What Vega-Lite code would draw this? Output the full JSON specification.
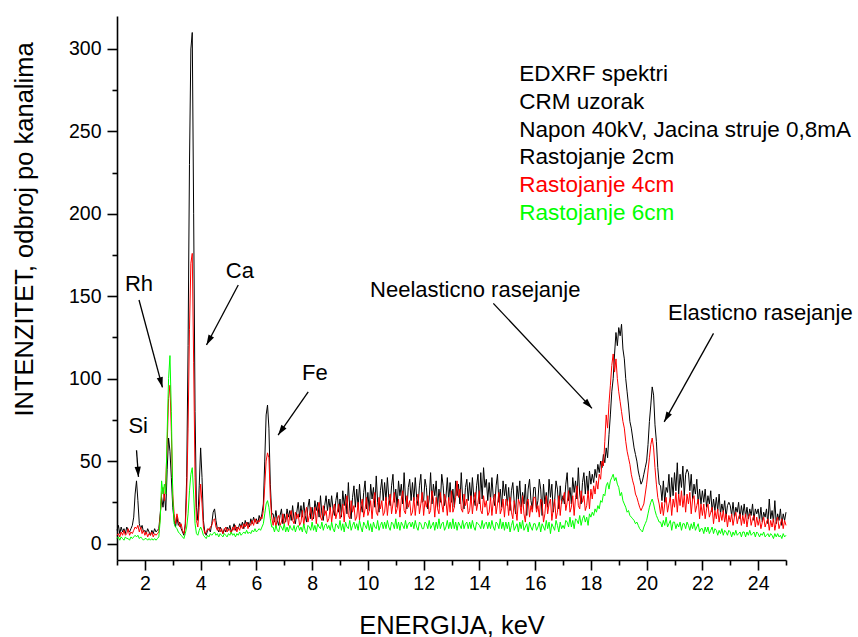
{
  "$schema": "https://vega.github.io/schema/vega-lite/v6.json",
  "width": 669,
  "height": 544,
  "autosize": "none",
  "padding": {"left": 117, "top": 16, "right": 72, "bottom": 77},
  "background": "white",
  "datasets": {
    "spec": [
{"e":1.00,"k":8,"r":5,"g":3},{"e":1.05,"k":11,"r":6,"g":4},{"e":1.10,"k":6,"r":4,"g":2},{"e":1.15,"k":10,"r":7,"g":4},{"e":1.20,"k":7,"r":5,"g":3},{"e":1.25,"k":9,"r":8,"g":2},{"e":1.30,"k":6,"r":5,"g":4},{"e":1.35,"k":10,"r":6,"g":3},{"e":1.40,"k":8,"r":9,"g":3},{"e":1.45,"k":7,"r":5,"g":2},{"e":1.50,"k":9,"r":7,"g":4},{"e":1.55,"k":11,"r":6,"g":3},
{"e":1.60,"k":16,"r":8,"g":4},{"e":1.65,"k":30,"r":10,"g":5},{"e":1.70,"k":38,"r":9,"g":4},{"e":1.75,"k":26,"r":11,"g":5},{"e":1.80,"k":12,"r":7,"g":3},{"e":1.85,"k":9,"r":10,"g":4},{"e":1.90,"k":11,"r":6,"g":3},{"e":1.95,"k":7,"r":8,"g":2},{"e":2.00,"k":8,"r":5,"g":3},{"e":2.05,"k":6,"r":7,"g":3},{"e":2.10,"k":9,"r":4,"g":2},{"e":2.15,"k":7,"r":6,"g":3},{"e":2.20,"k":5,"r":5,"g":2},{"e":2.25,"k":8,"r":7,"g":3},{"e":2.30,"k":6,"r":4,"g":2},{"e":2.35,"k":9,"r":6,"g":3},{"e":2.40,"k":7,"r":5,"g":2},{"e":2.45,"k":8,"r":6,"g":3},{"e":2.50,"k":9,"r":7,"g":4},
{"e":2.55,"k":18,"r":16,"g":14},{"e":2.60,"k":28,"r":30,"g":38},{"e":2.65,"k":22,"r":34,"g":30},{"e":2.70,"k":30,"r":26,"g":36},{"e":2.75,"k":20,"r":38,"g":30},{"e":2.80,"k":45,"r":60,"g":68},{"e":2.85,"k":64,"r":88,"g":100},{"e":2.90,"k":56,"r":96,"g":114},{"e":2.95,"k":40,"r":68,"g":80},{"e":3.00,"k":22,"r":30,"g":28},{"e":3.05,"k":14,"r":18,"g":12},{"e":3.10,"k":10,"r":12,"g":10},{"e":3.15,"k":16,"r":18,"g":9},{"e":3.20,"k":11,"r":14,"g":7},{"e":3.25,"k":13,"r":10,"g":6},{"e":3.30,"k":9,"r":12,"g":5},{"e":3.35,"k":7,"r":8,"g":4},{"e":3.40,"k":5,"r":6,"g":3},{"e":3.45,"k":12,"r":10,"g":6},
{"e":3.50,"k":40,"r":30,"g":10},{"e":3.55,"k":120,"r":70,"g":18},{"e":3.60,"k":230,"r":130,"g":32},{"e":3.65,"k":300,"r":170,"g":42},{"e":3.70,"k":310,"r":176,"g":46},{"e":3.75,"k":200,"r":110,"g":30},{"e":3.80,"k":80,"r":40,"g":12},{"e":3.85,"k":22,"r":14,"g":6},{"e":3.90,"k":14,"r":10,"g":5},{"e":3.95,"k":35,"r":22,"g":8},{"e":4.00,"k":58,"r":36,"g":10},{"e":4.05,"k":40,"r":24,"g":8},{"e":4.10,"k":14,"r":10,"g":5},{"e":4.15,"k":7,"r":6,"g":4},{"e":4.20,"k":5,"r":7,"g":3},{"e":4.25,"k":8,"r":9,"g":5},{"e":4.30,"k":9,"r":8,"g":4},{"e":4.35,"k":7,"r":10,"g":6},{"e":4.40,"k":12,"r":11,"g":5},{"e":4.45,"k":19,"r":14,"g":6},{"e":4.50,"k":21,"r":15,"g":7},{"e":4.55,"k":14,"r":10,"g":5},{"e":4.60,"k":9,"r":8,"g":6},{"e":4.65,"k":7,"r":10,"g":4},{"e":4.70,"k":10,"r":7,"g":6},{"e":4.75,"k":8,"r":9,"g":5},{"e":4.80,"k":6,"r":6,"g":4},{"e":4.85,"k":9,"r":8,"g":6},{"e":4.90,"k":7,"r":10,"g":5},{"e":4.95,"k":10,"r":7,"g":4},
{"e":5.00,"k":8,"r":9,"g":6},{"e":5.05,"k":11,"r":8,"g":5},{"e":5.10,"k":7,"r":6,"g":7},{"e":5.15,"k":9,"r":10,"g":5},{"e":5.20,"k":12,"r":8,"g":6},{"e":5.25,"k":8,"r":11,"g":4},{"e":5.30,"k":10,"r":7,"g":6},{"e":5.35,"k":9,"r":10,"g":5},{"e":5.40,"k":12,"r":8,"g":7},{"e":5.45,"k":10,"r":11,"g":5},{"e":5.50,"k":13,"r":9,"g":6},{"e":5.55,"k":9,"r":12,"g":7},{"e":5.60,"k":14,"r":10,"g":6},{"e":5.65,"k":11,"r":13,"g":8},{"e":5.70,"k":13,"r":9,"g":6},{"e":5.75,"k":10,"r":12,"g":7},{"e":5.80,"k":15,"r":11,"g":6},{"e":5.85,"k":12,"r":14,"g":8},{"e":5.90,"k":16,"r":11,"g":7},{"e":5.95,"k":13,"r":15,"g":9},{"e":6.00,"k":15,"r":12,"g":7},{"e":6.05,"k":12,"r":14,"g":8},{"e":6.10,"k":17,"r":13,"g":9},{"e":6.15,"k":14,"r":16,"g":8},{"e":6.20,"k":18,"r":15,"g":10},
{"e":6.25,"k":24,"r":20,"g":12},{"e":6.30,"k":50,"r":35,"g":18},{"e":6.35,"k":78,"r":50,"g":24},{"e":6.40,"k":84,"r":55,"g":26},{"e":6.45,"k":70,"r":52,"g":22},{"e":6.50,"k":36,"r":28,"g":15},{"e":6.55,"k":18,"r":16,"g":10},
{"e":6.60,"k":18,"r":11,"g":10},{"e":6.65,"k":13,"r":16,"g":7},{"e":6.70,"k":20,"r":10,"g":11},{"e":6.75,"k":14,"r":15,"g":8},{"e":6.80,"k":11,"r":17,"g":7},{"e":6.85,"k":17,"r":11,"g":11},{"e":6.90,"k":21,"r":13,"g":10},{"e":6.95,"k":12,"r":18,"g":8},
{"e":7.00,"k":18,"r":12,"g":12},{"e":7.05,"k":13,"r":14,"g":7},{"e":7.10,"k":21,"r":18,"g":10},{"e":7.15,"k":16,"r":11,"g":7},{"e":7.20,"k":20,"r":17,"g":11},{"e":7.25,"k":14,"r":20,"g":9},{"e":7.30,"k":23,"r":14,"g":8},{"e":7.35,"k":15,"r":12,"g":11},{"e":7.40,"k":12,"r":19,"g":7},{"e":7.45,"k":19,"r":15,"g":10},{"e":7.50,"k":25,"r":18,"g":11},{"e":7.55,"k":16,"r":11,"g":8},{"e":7.60,"k":23,"r":13,"g":10},{"e":7.65,"k":16,"r":20,"g":7},{"e":7.70,"k":25,"r":11,"g":12},{"e":7.75,"k":17,"r":18,"g":8},{"e":7.80,"k":13,"r":22,"g":6},{"e":7.85,"k":22,"r":13,"g":11},{"e":7.90,"k":27,"r":17,"g":10},{"e":7.95,"k":15,"r":22,"g":8},
{"e":8.00,"k":22,"r":14,"g":13},{"e":8.05,"k":15,"r":17,"g":8},{"e":8.10,"k":26,"r":22,"g":11},{"e":8.15,"k":20,"r":12,"g":7},{"e":8.20,"k":25,"r":21,"g":12},{"e":8.25,"k":16,"r":25,"g":10},{"e":8.30,"k":29,"r":16,"g":9},{"e":8.35,"k":18,"r":14,"g":13},{"e":8.40,"k":14,"r":23,"g":8},{"e":8.45,"k":23,"r":17,"g":11},{"e":8.50,"k":29,"r":20,"g":12},{"e":8.55,"k":20,"r":13,"g":9},{"e":8.60,"k":27,"r":15,"g":11},{"e":8.65,"k":20,"r":22,"g":8},{"e":8.70,"k":29,"r":13,"g":13},{"e":8.75,"k":21,"r":20,"g":9},{"e":8.80,"k":17,"r":24,"g":7},{"e":8.85,"k":26,"r":15,"g":12},{"e":8.90,"k":31,"r":19,"g":11},{"e":8.95,"k":19,"r":24,"g":9},
{"e":9.00,"k":27,"r":15,"g":14},{"e":9.05,"k":16,"r":18,"g":8},{"e":9.10,"k":32,"r":24,"g":12},{"e":9.15,"k":23,"r":13,"g":7},{"e":9.20,"k":30,"r":24,"g":13},{"e":9.25,"k":18,"r":29,"g":10},{"e":9.30,"k":37,"r":17,"g":9},{"e":9.35,"k":21,"r":15,"g":14},{"e":9.40,"k":15,"r":26,"g":8},{"e":9.45,"k":28,"r":19,"g":11},{"e":9.50,"k":35,"r":23,"g":13},{"e":9.55,"k":22,"r":14,"g":9},{"e":9.60,"k":33,"r":16,"g":12},{"e":9.65,"k":22,"r":25,"g":8},{"e":9.70,"k":36,"r":14,"g":14},{"e":9.75,"k":24,"r":23,"g":10},{"e":9.80,"k":19,"r":27,"g":7},{"e":9.85,"k":31,"r":16,"g":13},{"e":9.90,"k":38,"r":21,"g":11},{"e":9.95,"k":21,"r":28,"g":9},
{"e":10.00,"k":31,"r":17,"g":14},{"e":10.05,"k":20,"r":20,"g":8},{"e":10.10,"k":36,"r":26,"g":12},{"e":10.15,"k":27,"r":15,"g":7},{"e":10.20,"k":34,"r":26,"g":13},{"e":10.25,"k":22,"r":31,"g":10},{"e":10.30,"k":41,"r":19,"g":9},{"e":10.35,"k":25,"r":17,"g":14},{"e":10.40,"k":19,"r":28,"g":8},{"e":10.45,"k":32,"r":21,"g":11},{"e":10.50,"k":39,"r":26,"g":13},{"e":10.55,"k":26,"r":17,"g":9},{"e":10.60,"k":37,"r":19,"g":13},{"e":10.65,"k":26,"r":28,"g":9},{"e":10.70,"k":40,"r":17,"g":14},{"e":10.75,"k":28,"r":26,"g":10},{"e":10.80,"k":23,"r":30,"g":8},{"e":10.85,"k":35,"r":18,"g":13},{"e":10.90,"k":42,"r":24,"g":12},{"e":10.95,"k":25,"r":31,"g":9},
{"e":11.00,"k":33,"r":18,"g":15},{"e":11.05,"k":22,"r":21,"g":9},{"e":11.10,"k":38,"r":27,"g":13},{"e":11.15,"k":29,"r":16,"g":8},{"e":11.20,"k":36,"r":27,"g":13},{"e":11.25,"k":24,"r":32,"g":11},{"e":11.30,"k":43,"r":20,"g":9},{"e":11.35,"k":27,"r":18,"g":14},{"e":11.40,"k":21,"r":29,"g":9},{"e":11.45,"k":34,"r":22,"g":12},{"e":11.50,"k":39,"r":26,"g":13},{"e":11.55,"k":26,"r":17,"g":10},{"e":11.60,"k":37,"r":19,"g":13},{"e":11.65,"k":26,"r":28,"g":9},{"e":11.70,"k":40,"r":17,"g":14},{"e":11.75,"k":28,"r":26,"g":10},{"e":11.80,"k":23,"r":30,"g":8},{"e":11.85,"k":35,"r":18,"g":13},{"e":11.90,"k":42,"r":24,"g":12},{"e":11.95,"k":25,"r":31,"g":9},
{"e":12.00,"k":26,"r":17,"g":9},{"e":12.05,"k":39,"r":26,"g":13},{"e":12.10,"k":34,"r":22,"g":12},{"e":12.15,"k":21,"r":29,"g":9},{"e":12.20,"k":27,"r":18,"g":14},{"e":12.25,"k":43,"r":20,"g":9},{"e":12.30,"k":24,"r":32,"g":11},{"e":12.35,"k":36,"r":27,"g":13},{"e":12.40,"k":29,"r":16,"g":8},{"e":12.45,"k":38,"r":28,"g":13},{"e":12.50,"k":22,"r":21,"g":9},{"e":12.55,"k":33,"r":18,"g":15},{"e":12.60,"k":25,"r":31,"g":9},{"e":12.65,"k":42,"r":24,"g":12},{"e":12.70,"k":35,"r":19,"g":13},{"e":12.75,"k":23,"r":30,"g":8},{"e":12.80,"k":28,"r":26,"g":10},{"e":12.85,"k":40,"r":17,"g":14},{"e":12.90,"k":26,"r":28,"g":9},{"e":12.95,"k":37,"r":19,"g":13},
{"e":13.00,"k":25,"r":32,"g":9},{"e":13.05,"k":33,"r":19,"g":15},{"e":13.10,"k":22,"r":22,"g":9},{"e":13.15,"k":38,"r":28,"g":13},{"e":13.20,"k":29,"r":38,"g":8},{"e":13.25,"k":36,"r":28,"g":13},{"e":13.30,"k":24,"r":33,"g":11},{"e":13.35,"k":43,"r":21,"g":9},{"e":13.40,"k":27,"r":19,"g":14},{"e":13.45,"k":21,"r":30,"g":9},{"e":13.50,"k":34,"r":23,"g":12},{"e":13.55,"k":39,"r":27,"g":13},{"e":13.60,"k":26,"r":18,"g":9},{"e":13.65,"k":37,"r":20,"g":13},{"e":13.70,"k":26,"r":29,"g":9},{"e":13.75,"k":40,"r":18,"g":14},{"e":13.80,"k":28,"r":27,"g":10},{"e":13.85,"k":23,"r":31,"g":8},{"e":13.90,"k":35,"r":20,"g":13},{"e":13.95,"k":42,"r":25,"g":12},
{"e":14.00,"k":24,"r":32,"g":11},{"e":14.05,"k":43,"r":20,"g":9},{"e":14.10,"k":27,"r":18,"g":14},{"e":14.15,"k":46,"r":29,"g":9},{"e":14.20,"k":34,"r":22,"g":12},{"e":14.25,"k":39,"r":26,"g":13},{"e":14.30,"k":26,"r":17,"g":9},{"e":14.35,"k":37,"r":19,"g":13},{"e":14.40,"k":26,"r":28,"g":9},{"e":14.45,"k":40,"r":17,"g":14},{"e":14.50,"k":28,"r":26,"g":10},{"e":14.55,"k":23,"r":30,"g":8},{"e":14.60,"k":35,"r":18,"g":13},{"e":14.65,"k":42,"r":24,"g":12},{"e":14.70,"k":25,"r":31,"g":9},{"e":14.75,"k":33,"r":18,"g":15},{"e":14.80,"k":22,"r":21,"g":9},{"e":14.85,"k":38,"r":27,"g":13},{"e":14.90,"k":29,"r":16,"g":8},{"e":14.95,"k":36,"r":27,"g":13},
{"e":15.00,"k":23,"r":26,"g":9},{"e":15.05,"k":34,"r":17,"g":13},{"e":15.10,"k":20,"r":28,"g":7},{"e":15.15,"k":32,"r":19,"g":11},{"e":15.20,"k":37,"r":15,"g":14},{"e":15.25,"k":25,"r":26,"g":8},{"e":15.30,"k":18,"r":21,"g":10},{"e":15.35,"k":35,"r":14,"g":12},{"e":15.40,"k":27,"r":27,"g":7},{"e":15.45,"k":38,"r":24,"g":13},{"e":15.50,"k":22,"r":18,"g":9},{"e":15.55,"k":31,"r":29,"g":14},{"e":15.60,"k":24,"r":18,"g":8},{"e":15.65,"k":36,"r":13,"g":10},{"e":15.70,"k":17,"r":25,"g":12},{"e":15.75,"k":33,"r":27,"g":7},{"e":15.80,"k":39,"r":16,"g":13},{"e":15.85,"k":26,"r":23,"g":10},{"e":15.90,"k":21,"r":19,"g":8},{"e":15.95,"k":34,"r":28,"g":12},
{"e":16.00,"k":34,"r":28,"g":12},{"e":16.05,"k":21,"r":19,"g":8},{"e":16.10,"k":26,"r":23,"g":10},{"e":16.15,"k":39,"r":16,"g":13},{"e":16.20,"k":33,"r":27,"g":7},{"e":16.25,"k":17,"r":25,"g":12},{"e":16.30,"k":36,"r":13,"g":10},{"e":16.35,"k":24,"r":18,"g":8},{"e":16.40,"k":31,"r":29,"g":14},{"e":16.45,"k":22,"r":18,"g":9},{"e":16.50,"k":39,"r":24,"g":13},{"e":16.55,"k":28,"r":27,"g":6},{"e":16.60,"k":36,"r":14,"g":12},{"e":16.65,"k":19,"r":21,"g":10},{"e":16.70,"k":26,"r":27,"g":8},{"e":16.75,"k":38,"r":15,"g":14},{"e":16.80,"k":33,"r":19,"g":11},{"e":16.85,"k":21,"r":29,"g":7},{"e":16.90,"k":35,"r":17,"g":13},{"e":16.95,"k":24,"r":26,"g":9},
{"e":17.00,"k":29,"r":27,"g":11},{"e":17.05,"k":24,"r":31,"g":9},{"e":17.10,"k":36,"r":20,"g":14},{"e":17.15,"k":43,"r":25,"g":13},{"e":17.20,"k":26,"r":32,"g":10},{"e":17.25,"k":34,"r":19,"g":16},{"e":17.30,"k":24,"r":22,"g":10},{"e":17.35,"k":40,"r":29,"g":14},{"e":17.40,"k":31,"r":17,"g":9},{"e":17.45,"k":38,"r":28,"g":15},{"e":17.50,"k":27,"r":35,"g":14},{"e":17.55,"k":46,"r":23,"g":12},{"e":17.60,"k":30,"r":21,"g":17},{"e":17.65,"k":24,"r":32,"g":11},{"e":17.70,"k":37,"r":25,"g":15},{"e":17.75,"k":43,"r":29,"g":17},{"e":17.80,"k":30,"r":20,"g":13},{"e":17.85,"k":41,"r":23,"g":16},{"e":17.90,"k":30,"r":32,"g":11},{"e":17.95,"k":44,"r":21,"g":18},
{"e":18.00,"k":36,"r":33,"g":16},{"e":18.05,"k":42,"r":27,"g":19},{"e":18.10,"k":37,"r":35,"g":17},{"e":18.15,"k":45,"r":30,"g":21},{"e":18.20,"k":40,"r":38,"g":19},{"e":18.25,"k":48,"r":33,"g":23},{"e":18.30,"k":43,"r":42,"g":21},{"e":18.35,"k":50,"r":39,"g":26},{"e":18.40,"k":46,"r":50,"g":25},{"e":18.45,"k":54,"r":47,"g":30},{"e":18.50,"k":49,"r":62,"g":29},
{"e":18.55,"k":58,"r":78,"g":35},{"e":18.60,"k":52,"r":70,"g":37},{"e":18.65,"k":66,"r":85,"g":33},{"e":18.70,"k":78,"r":96,"g":38},{"e":18.75,"k":92,"r":108,"g":40},{"e":18.80,"k":100,"r":115,"g":42},{"e":18.85,"k":115,"r":104,"g":38},{"e":18.90,"k":128,"r":112,"g":40},{"e":18.95,"k":120,"r":100,"g":36},
{"e":19.00,"k":131,"r":92,"g":34},{"e":19.05,"k":126,"r":86,"g":29},{"e":19.10,"k":133,"r":80,"g":31},{"e":19.15,"k":118,"r":74,"g":26},{"e":19.20,"k":112,"r":70,"g":24},{"e":19.25,"k":100,"r":62,"g":22},{"e":19.30,"k":92,"r":56,"g":19},{"e":19.35,"k":84,"r":52,"g":20},{"e":19.40,"k":74,"r":48,"g":17},{"e":19.45,"k":70,"r":42,"g":16},{"e":19.50,"k":64,"r":38,"g":15},{"e":19.55,"k":58,"r":35,"g":14},{"e":19.60,"k":54,"r":30,"g":12},{"e":19.65,"k":50,"r":28,"g":13},{"e":19.70,"k":44,"r":25,"g":11},{"e":19.75,"k":40,"r":22,"g":9},{"e":19.80,"k":36,"r":20,"g":8},{"e":19.85,"k":38,"r":22,"g":7},{"e":19.90,"k":42,"r":24,"g":10},{"e":19.95,"k":46,"r":30,"g":12},
{"e":20.00,"k":50,"r":36,"g":14},{"e":20.05,"k":60,"r":44,"g":18},{"e":20.10,"k":74,"r":52,"g":22},{"e":20.15,"k":84,"r":60,"g":25},{"e":20.20,"k":95,"r":64,"g":27},{"e":20.25,"k":90,"r":58,"g":24},{"e":20.30,"k":72,"r":46,"g":20},{"e":20.35,"k":62,"r":36,"g":17},{"e":20.40,"k":46,"r":28,"g":15},{"e":20.45,"k":36,"r":24,"g":13},
{"e":20.50,"k":35,"r":18,"g":13},{"e":20.55,"k":26,"r":25,"g":10},{"e":20.60,"k":38,"r":17,"g":14},{"e":20.65,"k":25,"r":24,"g":11},{"e":20.70,"k":34,"r":28,"g":16},{"e":20.75,"k":31,"r":19,"g":10},{"e":20.80,"k":42,"r":24,"g":12},{"e":20.85,"k":26,"r":28,"g":14},{"e":20.90,"k":40,"r":17,"g":8},{"e":20.95,"k":29,"r":27,"g":13},
{"e":21.00,"k":43,"r":22,"g":13},{"e":21.05,"k":32,"r":31,"g":9},{"e":21.10,"k":49,"r":19,"g":12},{"e":21.15,"k":30,"r":30,"g":10},{"e":21.20,"k":42,"r":23,"g":13},{"e":21.25,"k":34,"r":32,"g":8},{"e":21.30,"k":47,"r":22,"g":12},{"e":21.35,"k":29,"r":29,"g":12},{"e":21.40,"k":42,"r":19,"g":9},{"e":21.45,"k":45,"r":30,"g":13},{"e":21.50,"k":43,"r":24,"g":11},{"e":21.55,"k":32,"r":31,"g":8},{"e":21.60,"k":42,"r":18,"g":12},{"e":21.65,"k":27,"r":27,"g":9},{"e":21.70,"k":36,"r":29,"g":13},{"e":21.75,"k":30,"r":19,"g":8},{"e":21.80,"k":39,"r":23,"g":10},{"e":21.85,"k":24,"r":27,"g":12},{"e":21.90,"k":33,"r":15,"g":7},{"e":21.95,"k":24,"r":24,"g":9},
{"e":22.00,"k":32,"r":17,"g":9},{"e":22.05,"k":25,"r":24,"g":6},{"e":22.10,"k":33,"r":15,"g":10},{"e":22.15,"k":22,"r":21,"g":7},{"e":22.20,"k":29,"r":24,"g":10},{"e":22.25,"k":24,"r":16,"g":6},{"e":22.30,"k":32,"r":19,"g":8},{"e":22.35,"k":19,"r":22,"g":10},{"e":22.40,"k":27,"r":12,"g":6},{"e":22.45,"k":20,"r":20,"g":9},{"e":22.50,"k":28,"r":15,"g":8},{"e":22.55,"k":20,"r":21,"g":5},{"e":22.60,"k":30,"r":13,"g":8},{"e":22.65,"k":18,"r":19,"g":6},{"e":22.70,"k":24,"r":14,"g":9},{"e":22.75,"k":19,"r":20,"g":5},{"e":22.80,"k":26,"r":13,"g":8},{"e":22.85,"k":16,"r":18,"g":7},{"e":22.90,"k":23,"r":10,"g":5},{"e":22.95,"k":25,"r":17,"g":8},
{"e":23.00,"k":23,"r":13,"g":7},{"e":23.05,"k":17,"r":18,"g":4},{"e":23.10,"k":25,"r":11,"g":7},{"e":23.15,"k":16,"r":16,"g":5},{"e":23.20,"k":22,"r":19,"g":8},{"e":23.25,"k":19,"r":12,"g":5},{"e":23.30,"k":25,"r":16,"g":6},{"e":23.35,"k":15,"r":18,"g":7},{"e":23.40,"k":23,"r":11,"g":4},{"e":23.45,"k":17,"r":17,"g":7},{"e":23.50,"k":24,"r":12,"g":7},{"e":23.55,"k":16,"r":18,"g":4},{"e":23.60,"k":22,"r":10,"g":7},{"e":23.65,"k":15,"r":16,"g":5},{"e":23.70,"k":21,"r":18,"g":8},{"e":23.75,"k":17,"r":11,"g":5},{"e":23.80,"k":24,"r":15,"g":6},{"e":23.85,"k":14,"r":17,"g":7},{"e":23.90,"k":21,"r":10,"g":4},{"e":23.95,"k":18,"r":16,"g":7},
{"e":24.00,"k":21,"r":11,"g":6},{"e":24.05,"k":14,"r":15,"g":4},{"e":24.10,"k":22,"r":9,"g":6},{"e":24.15,"k":13,"r":13,"g":5},{"e":24.20,"k":19,"r":16,"g":7},{"e":24.25,"k":16,"r":10,"g":4},{"e":24.30,"k":21,"r":13,"g":5},{"e":24.35,"k":12,"r":15,"g":6},{"e":24.40,"k":27,"r":8,"g":4},{"e":24.45,"k":15,"r":14,"g":6},{"e":24.50,"k":20,"r":10,"g":5},{"e":24.55,"k":13,"r":15,"g":3},{"e":24.60,"k":26,"r":8,"g":6},{"e":24.65,"k":12,"r":13,"g":4},{"e":24.70,"k":18,"r":16,"g":6},{"e":24.75,"k":14,"r":9,"g":4},{"e":24.80,"k":21,"r":12,"g":5},{"e":24.85,"k":11,"r":15,"g":3},{"e":24.90,"k":18,"r":9,"g":6},{"e":24.95,"k":14,"r":14,"g":4},{"e":25.00,"k":19,"r":11,"g":5}
    ],
    "notes": [
      {"lab": "Si", "tx": 1.76, "ty": 71.3, "x1": 1.70, "y1": 56.6, "x2": 1.77, "y2": 40.4},
      {"lab": "Rh", "tx": 1.79, "ty": 157.4, "x1": 1.79, "y1": 147.7, "x2": 2.63, "y2": 94.7},
      {"lab": "Ca", "tx": 5.41, "ty": 165.4, "x1": 5.35, "y1": 156.8, "x2": 4.21, "y2": 120.4},
      {"lab": "Fe", "tx": 8.10, "ty": 103.7, "x1": 7.86, "y1": 92.0, "x2": 6.78, "y2": 65.8},
      {"lab": "Neelasticno rasejanje", "tx": 13.85, "ty": 153.5, "x1": 14.50, "y1": 145.7, "x2": 18.04, "y2": 82.0},
      {"lab": "Elasticno rasejanje", "tx": 24.08, "ty": 139.9, "x1": 22.40, "y1": 127.5, "x2": 20.63, "y2": 73.8}
    ],
    "legend": [
      {"t": "EDXRF spektri", "s": "n", "lx": 15.43, "ly": 280.3},
      {"t": "CRM uzorak", "s": "n", "lx": 15.43, "ly": 263.5},
      {"t": "Napon 40kV, Jacina struje 0,8mA", "s": "n", "lx": 15.43, "ly": 246.8},
      {"t": "Rastojanje 2cm", "s": "k", "lx": 15.43, "ly": 230.0},
      {"t": "Rastojanje 4cm", "s": "r", "lx": 15.43, "ly": 213.2},
      {"t": "Rastojanje 6cm", "s": "g", "lx": 15.43, "ly": 196.5}
    ]
  },
  "resolve": {"axis": {"x": "independent", "y": "independent"}},
  "layer": [
    {
      "data": {"name": "spec"},
      "mark": {"type": "line", "color": "#000000", "strokeWidth": 1},
      "encoding": {
        "x": {"field": "e", "type": "quantitative", "title": "ENERGIJA, keV",
          "scale": {"domain": [1, 25], "nice": false, "zero": false},
          "axis": {
            "orient": "bottom",
            "values": [2,4,6,8,10,12,14,16,18,20,22,24],
            "tickSize": 10,
            "labelPadding": 4,
            "titleY": 73,
            "titleBaseline": "alphabetic"
          }},
        "y": {"field": "k", "type": "quantitative", "title": "INTENZITET, odbroj po kanalima",
          "scale": {"domain": [-10, 320], "nice": false, "zero": false},
          "axis": {
            "orient": "left",
            "values": [0,50,100,150,200,250,300],
            "tickSize": 10,
            "labelPadding": 6,
            "titleX": -85,
            "titleY": 213,
            "titleAngle": -90,
            "titleAlign": "center",
            "titleBaseline": "alphabetic"
          }},
        "order": {"field": "e", "type": "quantitative"}
      }
    },
    {
      "data": {"name": "spec"},
      "mark": {"type": "line", "color": "#FF0000", "strokeWidth": 1},
      "encoding": {
        "x": {"field": "e", "type": "quantitative",
          "axis": {"orient": "bottom", "values": [1,3,5,7,9,11,13,15,17,19,21,23,25], "tickSize": 5, "labels": false, "domain": false, "title": null}},
        "y": {"field": "r", "type": "quantitative",
          "axis": {"orient": "left", "values": [25,75,125,175,225,275], "tickSize": 5, "labels": false, "domain": false, "title": null}},
        "order": {"field": "e", "type": "quantitative"}
      }
    },
    {
      "data": {"name": "spec"},
      "mark": {"type": "line", "color": "#00FF00", "strokeWidth": 1},
      "encoding": {
        "x": {"field": "e", "type": "quantitative", "axis": null},
        "y": {"field": "g", "type": "quantitative", "axis": null},
        "order": {"field": "e", "type": "quantitative"}
      }
    },
    {
      "data": {"name": "notes"},
      "mark": {"type": "rule", "color": "#000000", "strokeWidth": 1.3},
      "encoding": {
        "x": {"field": "x1", "type": "quantitative", "axis": null},
        "y": {"field": "y1", "type": "quantitative", "axis": null},
        "x2": {"field": "x2"},
        "y2": {"field": "y2"}
      }
    },
    {
      "data": {"name": "notes"},
      "transform": [
        {"calculate": "atan2((datum.x2 - datum.x1) * 669 / 24, (datum.y2 - datum.y1) * 544 / 330) * 180 / PI", "as": "ang"}
      ],
      "mark": {"type": "point", "shape": "M0,0L0.32,1.05L-0.32,1.05Z", "filled": true, "color": "#000000", "opacity": 1, "size": 380},
      "encoding": {
        "x": {"field": "x2", "type": "quantitative", "axis": null},
        "y": {"field": "y2", "type": "quantitative", "axis": null},
        "angle": {"field": "ang", "type": "quantitative", "scale": null}
      }
    },
    {
      "data": {"name": "notes"},
      "mark": {"type": "text", "font": "Liberation Sans", "fontSize": 22, "color": "#000000", "align": "center", "baseline": "middle"},
      "encoding": {
        "x": {"field": "tx", "type": "quantitative", "axis": null},
        "y": {"field": "ty", "type": "quantitative", "axis": null},
        "text": {"field": "lab"}
      }
    },
    {
      "data": {"name": "legend"},
      "mark": {"type": "text", "font": "Liberation Sans", "fontSize": 22.5, "align": "left", "baseline": "alphabetic"},
      "encoding": {
        "x": {"field": "lx", "type": "quantitative", "axis": null},
        "y": {"field": "ly", "type": "quantitative", "axis": null},
        "text": {"field": "t"},
        "color": {"field": "s", "type": "nominal", "legend": null,
          "scale": {"domain": ["n", "k", "r", "g"], "range": ["#000000", "#000000", "#FF0000", "#00FF00"]}}
      }
    }
  ],
  "config": {
    "view": {"stroke": null},
    "font": "Liberation Sans",
    "axis": {
      "grid": false,
      "domainColor": "#000000",
      "domainWidth": 1.6,
      "tickColor": "#000000",
      "tickWidth": 1.6,
      "labelColor": "#000000",
      "labelFont": "Liberation Sans",
      "labelFontSize": 19.5,
      "labelOverlap": false,
      "labelFlush": false,
      "titleFont": "Liberation Sans",
      "titleFontSize": 25.5,
      "titleFontWeight": "normal",
      "titleColor": "#000000"
    }
  }
}
